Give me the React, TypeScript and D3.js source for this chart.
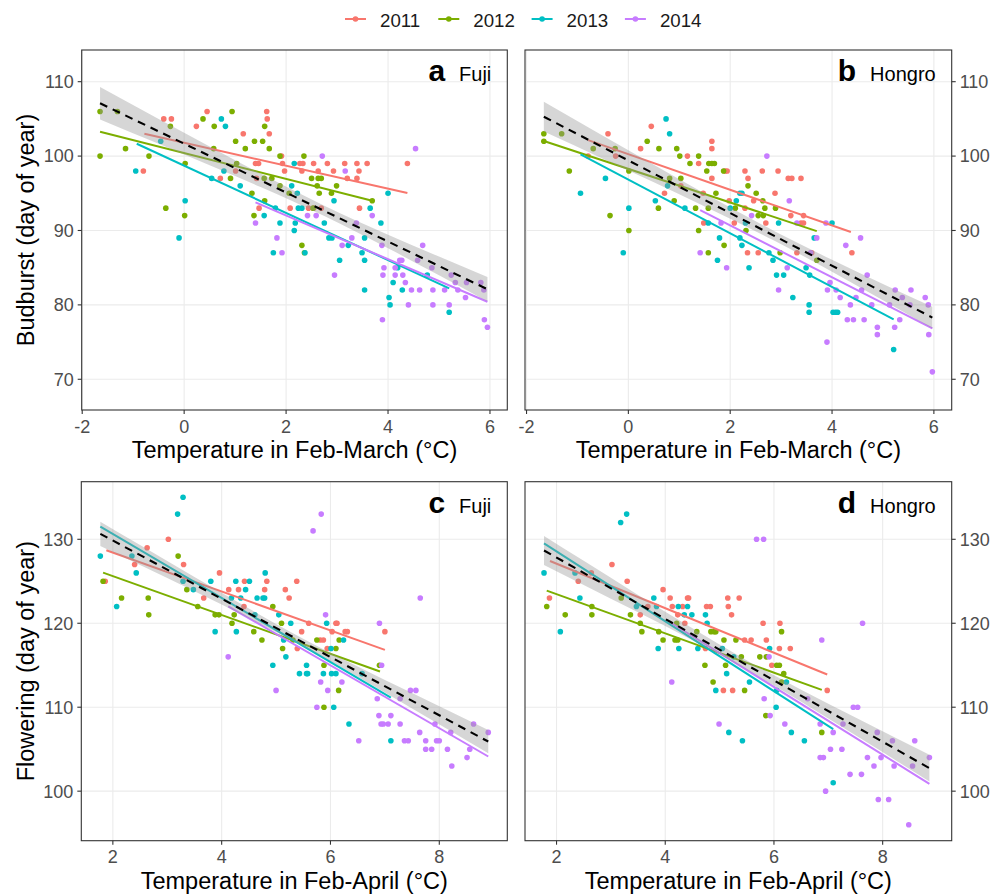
import React from "react";
import * as d3 from "d3";

type Pt = [number, number];
type BandPt = [number, number, number];

const years = ["2011", "2012", "2013", "2014"];
const yearColors = ["#F8766D", "#7CAE00", "#00BFC4", "#C77CFF"];

// ---- a: Fuji budburst ----
const fujiBud2011: Pt[] = [[-0.40,105],[-0.25,105],[0.45,106],[0.24,104],[1.62,106],[1.63,105],[1.67,103],[1.16,103],[-0.80,98],[0.71,97],[1.01,98],[1.40,99],[1.46,99],[1.42,97],[1.47,93],[1.91,100],[1.93,99],[1.97,98],[2.27,99],[2.33,99],[2.31,98],[2.54,99],[2.63,98],[2.81,99],[2.93,98],[3.15,99],[3.20,97],[3.39,99],[3.43,98],[3.39,97],[3.59,99],[3.44,93],[2.08,93],[2.44,93],[2.54,93],[2.69,93],[4.38,99]];
const fujiBud2012: Pt[] = [[-1.65,106],[-1.31,106],[-1.65,100],[-1.15,101],[-0.69,100],[-0.27,104],[-0.36,93],[0.02,99],[0.01,92],[0.37,105],[0.59,104],[0.58,101],[0.94,106],[1.01,102],[1.20,101],[1.03,99],[0.91,97],[1.38,102],[1.54,102],[1.58,104],[1.67,101],[1.33,95],[1.37,92],[1.58,94],[1.57,97],[1.72,97],[1.88,96],[1.88,100],[2.06,95],[2.35,100],[2.50,97],[2.63,97],[2.69,97],[2.61,96],[2.65,95],[2.99,96],[2.89,95],[2.31,88],[2.36,87],[3.69,94],[2.53,93]];
const fujiBud2013: Pt[] = [[-0.95,98],[-0.46,102],[-0.10,89],[0.02,94],[0.73,105],[0.81,104],[0.78,98],[0.54,97],[1.10,96],[1.79,93],[1.57,92],[1.88,91],[1.75,87],[2.11,96],[2.16,99],[2.22,95],[2.18,91],[2.16,90],[2.24,93],[2.31,93],[2.37,87],[2.75,91],[2.94,94],[2.84,89],[2.90,89],[3.05,86],[3.22,88],[3.54,89],[3.49,87],[3.54,86],[3.54,82],[3.65,93],[3.86,91],[4.00,95],[4.19,85],[4.10,83],[4.28,82],[4.02,81],[4.04,80],[4.77,84],[5.20,79]];
const fujiBud2014: Pt[] = [[2.71,100],[3.16,98],[1.40,91],[1.82,89],[1.92,87],[2.42,92],[2.59,92],[2.95,84],[3.10,88],[3.29,89],[3.38,91],[3.69,92],[3.88,88],[3.89,78],[3.92,85],[3.90,84],[4.14,85],[4.23,86],[4.27,86],[4.14,84],[4.29,84],[4.34,83],[4.40,80],[4.46,82],[4.62,82],[4.54,101],[4.58,86],[4.68,88],[4.86,85],[4.88,82],[4.88,80],[5.11,82],[5.20,80],[5.24,84],[5.32,83],[5.37,82],[5.52,81],[5.54,83],[5.82,83],[5.88,82],[5.89,78],[5.95,77]];
const fujiBudFits: Pt[][] = [
  [[-0.78,103.0],[4.38,95.03]],
  [[-1.65,103.27],[3.69,94.0]],
  [[-0.93,101.66],[5.20,82.21]],
  [[1.40,93.77],[5.95,80.42]],
];
const fujiBudBand: BandPt[] = [[-1.65,104.93,109.27],[-0.5,101.65,104.99],[0.5,98.76,101.30],[1.5,95.83,97.65],[2.76,91.90,93.30],[4,87.61,89.43],[5,83.97,86.49],[5.95,80.46,83.74]];

// ---- b: Hongro budburst ----
const hongBud2011: Pt[] = [[-0.40,103],[0.45,104],[0.24,101],[-0.25,100],[-0.79,100],[0.71,95],[1.03,96],[1.16,100],[1.38,99],[1.64,102],[1.64,101],[1.64,97],[1.48,91],[1.47,95],[1.90,98],[1.94,98],[1.98,94],[2.08,91],[2.29,98],[2.35,97],[2.46,94],[2.34,87],[2.29,93],[2.63,98],[2.70,91],[2.55,87],[2.88,95],[2.94,98],[3.14,97],[3.21,97],[3.39,97],[3.19,92],[3.39,91],[3.44,91],[3.44,92],[3.31,87],[3.60,87],[4.39,87]];
const hongBud2012: Pt[] = [[-1.66,103],[-1.66,102],[-1.31,103],[-1.16,98],[-0.69,101],[-0.36,92],[-0.26,101],[0.01,98],[0.01,90],[0.37,102],[0.60,101],[0.59,93],[0.81,97],[0.95,101],[1.01,100],[1.03,97],[0.90,94],[1.21,99],[1.38,100],[1.54,98],[1.58,99],[1.64,99],[1.69,99],[1.32,93],[1.38,90],[1.57,87],[1.57,93],[1.72,95],[1.87,98],[1.88,88],[2.10,93],[2.35,96],[2.51,95],[2.31,90],[2.64,94],[2.68,93],[2.55,92],[2.65,92],[2.89,93],[2.98,87],[3.70,86]];
const hongBud2013: Pt[] = [[-0.94,95],[-0.45,97],[-0.10,87],[0.01,93],[0.74,105],[0.81,103],[0.77,96],[0.53,94],[1.11,93],[1.57,91],[1.79,89],[1.75,86],[2.00,93],[2.12,94],[2.19,95],[2.23,95],[2.30,91],[2.19,89],[2.23,88],[2.37,85],[2.76,87],[2.95,91],[2.84,86],[2.91,84],[3.05,84],[3.23,81],[3.49,85],[3.56,84],[3.65,89],[3.55,80],[3.55,79],[4.00,91],[4.02,79],[4.07,79],[4.11,79],[5.21,74]];
const hongBud2014: Pt[] = [[2.72,100],[3.16,94],[1.41,87],[1.82,91],[1.93,85],[2.42,92],[2.95,82],[3.12,85],[3.31,91],[3.58,87],[3.70,89],[3.88,91],[3.90,75],[3.91,82],[3.96,83],[4.08,82],[4.16,81],[4.27,88],[4.36,80],[4.30,78],[4.42,78],[4.56,89],[4.47,81],[4.58,82],[4.63,78],[4.69,84],[4.78,80],[4.89,77],[4.89,76],[5.13,80],[5.24,82],[5.23,77],[5.33,78],[5.38,81],[5.55,82],[5.53,80],[5.83,81],[5.89,80],[5.90,76],[5.97,71]];
const hongBudFits: Pt[][] = [
  [[-0.79,102.15],[4.37,89.79]],
  [[-1.66,102.02],[3.70,89.92]],
  [[-0.94,100.22],[5.21,78.05]],
  [[1.41,92.74],[5.97,76.84]],
];
const hongBudBand: BandPt[] = [[-1.66,103.29,107.29],[-0.5,99.63,102.73],[0.5,96.47,98.83],[1.5,93.24,94.98],[2.87,88.61,89.91],[4,84.46,86.06],[5,80.62,82.82],[5.97,76.84,79.74]];

// ---- c: Fuji flowering ----
const fujiFlo2011: Pt[] = [[1.86,125],[2.40,127],[2.63,129],[3.02,130],[3.30,127],[3.67,123],[3.96,126],[4.13,124],[4.31,124],[4.42,125],[4.41,122],[4.79,124],[4.83,125],[5.17,124],[5.24,123],[5.38,125],[5.47,119],[5.39,117],[5.60,120],[5.81,118],[5.87,118],[5.94,117],[6.10,120],[6.12,120],[6.03,119],[6.27,119],[6.31,119],[7.00,119]];
const fujiFlo2012: Pt[] = [[1.82,125],[2.16,123],[2.65,123],[2.66,121],[3.20,128],[3.36,124],[3.56,122],[3.88,121],[3.95,121],[4.19,120],[4.23,121],[4.59,119],[4.74,118],[4.94,122],[5.10,120],[5.12,117],[5.31,118],[5.75,118],[5.88,115],[5.88,110],[6.10,117],[6.16,118],[6.15,112],[6.90,115]];
const fujiFlo2013: Pt[] = [[1.77,128],[2.07,122],[2.35,128],[2.43,126],[3.19,133],[3.29,135],[3.29,125],[3.48,124],[3.80,125],[3.88,119],[4.18,123],[4.26,125],[4.27,119],[4.35,123],[4.44,124],[4.51,125],[4.65,123],[4.76,123],[4.79,123],[4.80,126],[4.61,121],[5.05,121],[5.14,118],[5.18,116],[4.94,115],[5.27,120],[5.43,114],[5.56,114],[5.58,114],[5.56,115],[5.87,114],[5.93,120],[6.01,117],[6.02,114],[6.10,114],[6.06,110],[6.24,118],[6.34,108],[6.58,114],[7.11,106]];
const fujiFlo2014: Pt[] = [[4.12,116],[5.00,112],[5.68,131],[5.83,133],[5.91,121],[5.82,113],[5.95,112],[5.75,110],[6.21,113],[6.52,106],[6.90,120],[6.94,115],[6.86,111],[6.89,109],[6.93,108],[6.97,108],[7.06,108],[7.11,109],[7.28,108],[7.28,111],[7.47,112],[7.57,112],[7.36,106],[7.43,106],[7.65,123],[7.64,107],[7.75,106],[7.75,105],[7.86,105],[7.92,108],[7.95,106],[8.00,106],[8.15,105],[8.21,107],[8.23,103],[8.51,104],[8.56,105],[8.63,108],[8.90,107]];
const fujiFloFits: Pt[][] = [
  [[1.88,128.69],[7.00,116.83]],
  [[1.82,126.03],[6.91,114.25]],
  [[1.77,131.51],[7.11,111.15]],
  [[4.12,122.02],[8.90,104.13]],
];
const fujiFloBand: BandPt[] = [[1.77,129.20,132.10],[2.5,126.93,129.31],[3.5,123.80,125.50],[4.5,120.61,121.75],[5.42,117.53,118.43],[6.5,113.63,114.85],[7.5,109.86,111.68],[8.9,104.52,107.30]];

// ---- d: Hongro flowering ----
const hongFlo2011: Pt[] = [[1.87,123],[2.40,125],[2.64,126],[3.02,127],[3.30,125],[3.54,121],[3.68,122],[3.96,124],[4.09,123],[4.13,122],[4.23,121],[4.32,122],[4.36,120],[4.41,123],[4.43,123],[4.76,122],[4.83,122],[4.74,117],[5.07,112],[5.24,112],[5.15,123],[5.16,122],[5.22,121],[5.36,123],[5.46,118],[5.58,118],[5.80,120],[5.86,118],[5.96,115],[6.11,120],[6.10,117],[6.30,117],[6.98,112]];
const hongFlo2012: Pt[] = [[1.82,122],[2.16,121],[2.65,122],[2.65,121],[3.19,123],[3.36,121],[3.54,120],[3.57,119],[3.88,119],[3.96,118],[4.18,118],[4.23,118],[4.21,120],[4.58,119],[4.73,115],[4.88,113],[4.84,119],[4.90,119],[4.93,119],[5.08,118],[5.11,115],[5.30,118],[5.40,116],[5.46,112],[5.74,116],[5.86,116],[5.85,109],[6.05,115],[6.10,115],[6.14,119],[6.18,114],[6.14,113],[6.88,107]];
const hongFlo2013: Pt[] = [[1.77,126],[2.07,119],[2.34,126],[2.43,123],[3.18,132],[3.29,133],[3.47,122],[3.79,123],[3.84,122],[3.87,117],[4.24,122],[4.41,122],[4.35,121],[4.49,121],[4.25,117],[4.60,117],[4.74,121],[4.77,120],[4.93,112],[5.05,117],[5.13,114],[5.17,107],[5.26,116],[5.42,106],[5.55,113],[5.92,117],[6.04,110],[6.05,112],[6.23,113],[6.32,107],[6.56,106],[7.09,101]];
const hongFlo2014: Pt[] = [[4.12,113],[4.99,108],[5.68,130],[5.81,130],[5.82,111],[5.91,116],[5.93,109],[6.20,108],[6.62,111],[6.85,108],[6.88,118],[6.85,104],[6.91,104],[6.95,100],[7.04,105],[7.09,107],[7.25,105],[7.27,108],[7.40,102],[7.46,110],[7.54,110],[7.61,102],[7.63,120],[7.72,104],[7.84,103],[7.90,107],[7.92,99],[8.11,99],[7.97,104],[8.18,106],[8.21,103],[8.48,96],[8.55,103],[8.59,106],[8.86,104]];
const hongFloFits: Pt[][] = [
  [[1.88,127.42],[6.98,113.89]],
  [[1.82,123.89],[6.88,112.06]],
  [[1.77,129.52],[7.09,107.38]],
  [[4.12,120.0],[8.86,100.87]],
];
const hongFloBand: BandPt[] = [[1.77,126.94,130.40],[2.5,124.57,127.43],[3.5,121.31,123.37],[4.5,117.99,119.39],[5.48,114.55,115.65],[6.5,110.66,112.08],[7.5,106.67,108.77],[8.86,101.15,104.33]];

const budXTicks = [-2, 0, 2, 4, 6];
const budYTicks = [70, 80, 90, 100, 110];
const floXTicks = [2, 4, 6, 8];
const floYTicks = [100, 110, 120, 130];

const FONT = "'Liberation Sans', Arial, Helvetica, sans-serif";

interface PanelProps {
  left: number; right: number; top: number; bottom: number;
  xDomain: [number, number]; yDomain: [number, number];
  xTicks: number[]; yTicks: number[];
  series: Pt[][]; fits: Pt[][]; band: BandPt[];
  axisRight: boolean; letter: string; cultivar: string;
  xTitle: string; yTitle?: string;
}

function Panel(p: PanelProps) {
  const x = d3.scaleLinear().domain(p.xDomain).range([p.left, p.right]);
  const y = d3.scaleLinear().domain(p.yDomain).range([p.bottom, p.top]);
  const area = d3.area<BandPt>()
    .x((d) => x(d[0])).y0((d) => y(d[1])).y1((d) => y(d[2]))
    .curve(d3.curveMonotoneX);
  const line = d3.line<Pt>().x((d) => x(d[0])).y((d) => y(d[1]));
  const mid: Pt[] = p.band.map((d) => [d[0], (d[1] + d[2]) / 2]);
  const clipId = `clip-${p.letter}`;
  const axX = p.axisRight ? p.right : p.left;
  const midX = (p.left + p.right) / 2;
  const midY = (p.top + p.bottom) / 2;

  return (
    <g fontFamily={FONT}>
      <defs>
        <clipPath id={clipId}>
          <rect x={p.left} y={p.top} width={p.right - p.left} height={p.bottom - p.top} />
        </clipPath>
      </defs>
      <rect x={p.left} y={p.top} width={p.right - p.left} height={p.bottom - p.top} fill="#fff" />
      {/* grid */}
      {p.xTicks.map((t) => (
        <line key={"gx" + t} x1={x(t)} x2={x(t)} y1={p.top} y2={p.bottom} stroke="#ebebeb" strokeWidth={1.1} />
      ))}
      {p.yTicks.map((t) => (
        <line key={"gy" + t} x1={p.left} x2={p.right} y1={y(t)} y2={y(t)} stroke="#ebebeb" strokeWidth={1.1} />
      ))}
      <g clipPath={`url(#${clipId})`}>
        {p.series.map((pts, i) =>
          pts.map((d, j) => (
            <circle key={`p${i}-${j}`} cx={x(d[0])} cy={y(d[1])} r={2.8} fill={yearColors[i]} />
          ))
        )}
        {p.fits.map((f, i) => (
          <path key={"f" + i} d={line(f) || ""} fill="none" stroke={yearColors[i]} strokeWidth={2} />
        ))}
        <path d={area(p.band) || ""} fill="#999999" fillOpacity={0.4} />
        <path d={line([mid[0], mid[mid.length - 1]]) || ""} fill="none" stroke="#000" strokeWidth={2.1} strokeDasharray="8,6" />
      </g>
      <rect x={p.left} y={p.top} width={p.right - p.left} height={p.bottom - p.top} fill="none" stroke="#333" strokeWidth={1.1} />
      {/* panel label */}
      <text x={p.right - 16} y={p.top + 31} textAnchor="end" fill="#000">
        <tspan fontWeight="bold" fontSize={30}>{p.letter}</tspan>
        <tspan fontSize={20} dx={14}>{p.cultivar}</tspan>
      </text>
      {/* x axis */}
      {p.xTicks.map((t) => (
        <g key={"tx" + t}>
          <line x1={x(t)} x2={x(t)} y1={p.bottom} y2={p.bottom + 4} stroke="#333" strokeWidth={1.1} />
          <text x={x(t)} y={p.bottom + 22.7} textAnchor="middle" fontSize={18} fill="#4d4d4d">{t < 0 ? `-${-t}` : t}</text>
        </g>
      ))}
      <text x={midX} y={p.bottom + 48} textAnchor="middle" fontSize={23.5} fill="#000">{p.xTitle}</text>
      {/* y axis */}
      {p.yTicks.map((t) => (
        <g key={"ty" + t}>
          <line x1={axX} x2={p.axisRight ? axX + 4 : axX - 4} y1={y(t)} y2={y(t)} stroke="#333" strokeWidth={1.1} />
          <text x={p.axisRight ? axX + 8 : axX - 8} y={y(t) + 6.4} textAnchor={p.axisRight ? "start" : "end"} fontSize={18} fill="#4d4d4d">{t}</text>
        </g>
      ))}
      {p.yTitle && (
        <text transform={`translate(34 ${midY}) rotate(-90)`} textAnchor="middle" fontSize={23.5} fill="#000">{p.yTitle}</text>
      )}
    </g>
  );
}

function Legend() {
  const x0 = 345;
  const step = 93.3;
  return (
    <g fontFamily={FONT}>
      {years.map((yr, i) => {
        const kx = x0 + i * step;
        return (
          <g key={yr}>
            <line x1={kx} x2={kx + 21} y1={19} y2={19} stroke={yearColors[i]} strokeWidth={2} />
            <circle cx={kx + 10.5} cy={19} r={2.8} fill={yearColors[i]} />
            <text x={kx + 35} y={26.5} fontSize={18.7} fill="#1a1a1a">{yr}</text>
          </g>
        );
      })}
    </g>
  );
}

export default function App() {
  const top = { t: 50, b: 410 };
  const bot = { t: 481.7, b: 840.7 };
  return (
    <svg width={1003} height={895} style={{ position: "absolute", left: 0, top: 0, background: "#fff" }}>
      <rect width={1003} height={895} fill="#fff" />
      <Legend />
      <Panel left={81.7} right={507.3} top={top.t} bottom={top.b}
        xDomain={[-2.01, 6.34]} yDomain={[65.87, 114.26]}
        xTicks={budXTicks} yTicks={budYTicks}
        series={[fujiBud2011, fujiBud2012, fujiBud2013, fujiBud2014]}
        fits={fujiBudFits} band={fujiBudBand}
        axisRight={false} letter="a" cultivar="Fuji"
        xTitle="Temperature in Feb-March (°C)" yTitle="Budburst (day of year)" />
      <Panel left={525} right={951.7} top={top.t} bottom={top.b}
        xDomain={[-2.03, 6.35]} yDomain={[65.87, 114.26]}
        xTicks={budXTicks} yTicks={budYTicks}
        series={[hongBud2011, hongBud2012, hongBud2013, hongBud2014]}
        fits={hongBudFits} band={hongBudBand}
        axisRight={true} letter="b" cultivar="Hongro"
        xTitle="Temperature in Feb-March (°C)" />
      <Panel left={81.3} right={507.3} top={bot.t} bottom={bot.b}
        xDomain={[1.42, 9.25]} yDomain={[94.1, 136.86]}
        xTicks={floXTicks} yTicks={floYTicks}
        series={[fujiFlo2011, fujiFlo2012, fujiFlo2013, fujiFlo2014]}
        fits={fujiFloFits} band={fujiFloBand}
        axisRight={false} letter="c" cultivar="Fuji"
        xTitle="Temperature in Feb-April (°C)" yTitle="Flowering (day of year)" />
      <Panel left={525} right={951.7} top={bot.t} bottom={bot.b}
        xDomain={[1.42, 9.27]} yDomain={[94.1, 136.86]}
        xTicks={floXTicks} yTicks={floYTicks}
        series={[hongFlo2011, hongFlo2012, hongFlo2013, hongFlo2014]}
        fits={hongFloFits} band={hongFloBand}
        axisRight={true} letter="d" cultivar="Hongro"
        xTitle="Temperature in Feb-April (°C)" />
    </svg>
  );
}
